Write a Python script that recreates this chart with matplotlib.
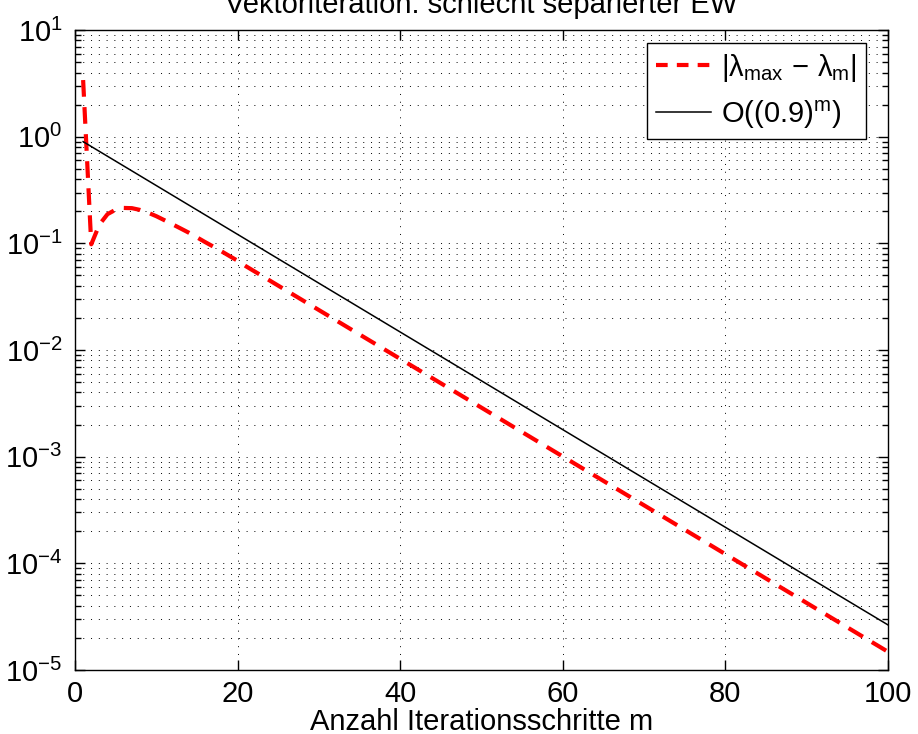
import numpy as np
import matplotlib
matplotlib.use("Agg")
from matplotlib import pyplot as plt
from matplotlib.ticker import LogLocator, FixedLocator

plt.rcParams['font.family'] = ['Liberation Sans', 'DejaVu Sans']
plt.rcParams['mathtext.fontset'] = 'custom'
plt.rcParams['mathtext.rm'] = 'Liberation Sans'
plt.rcParams['mathtext.it'] = 'Liberation Sans'
plt.rcParams['mathtext.bf'] = 'Liberation Sans'

# iteration steps
m = list(range(1, 101))

# |lambda_max - lambda_m|
err = [3.4, 0.098, 0.15, 0.188, 0.207, 0.215, 0.214, 0.206, 0.194, 0.18,
       0.165, 0.151, 0.138, 0.126, 0.114, 0.103, 0.0935, 0.0845, 0.0762, 0.0688,
       0.061275, 0.055147, 0.049632, 0.044669, 0.040202, 0.036182, 0.032564, 0.029308, 0.026377, 0.023739,
       0.021365, 0.019229, 0.017306, 0.015575, 0.014018, 0.012616, 0.011355, 0.010219, 0.0091969, 0.0082774,
       0.0074497, 0.0067049, 0.006034, 0.0054307, 0.0048877, 0.0043989, 0.003959, 0.0035631, 0.0032068, 0.0028861,
       0.0025975, 0.0023378, 0.002104, 0.0018936, 0.0017042, 0.0015338, 0.0013804, 0.0012424, 0.0011182, 0.0010063,
       0.00090569, 0.00081514, 0.0007336, 0.00066024, 0.00059422, 0.0005348, 0.00048132, 0.00043319, 0.00038987, 0.00035088,
       0.0003158, 0.00028422, 0.00025579, 0.00023022, 0.00020719, 0.00018647, 0.00016783, 0.00015104, 0.00013594, 0.00012234,
       0.00011011, 0.0000991, 0.00008919, 0.00008027, 0.00007225, 0.00006502, 0.00005852, 0.00005267, 0.0000474, 0.00004266,
       0.00003839, 0.00003455, 0.0000311, 0.00002799, 0.00002519, 0.00002267, 0.0000204, 0.00001836, 0.00001653, 0.00001487]

# reference rate O(0.9^m)
ref = [0.9, 0.81, 0.729, 0.6561, 0.59049, 0.531441, 0.478297, 0.430467, 0.38742, 0.348678,
       0.313811, 0.28243, 0.254187, 0.228768, 0.205891, 0.185302, 0.166772, 0.150095, 0.135085, 0.121577,
       0.109419, 0.098477, 0.088629, 0.079766, 0.07179, 0.064611, 0.05815, 0.052335, 0.047101, 0.042391,
       0.038152, 0.034337, 0.030903, 0.027813, 0.025032, 0.022528, 0.020276, 0.018248, 0.016423, 0.014781,
       0.013303, 0.011973, 0.010775, 0.0096977, 0.008728, 0.0078552, 0.0070697, 0.0063627, 0.0057264, 0.0051538,
       0.0046384, 0.0041746, 0.0037571, 0.0033814, 0.0030433, 0.0027389, 0.002465, 0.0022185, 0.0019967, 0.001797,
       0.0016173, 0.0014556, 0.00131, 0.001179, 0.0010611, 0.000955, 0.0008595, 0.00077355, 0.0006962, 0.00062658,
       0.00056392, 0.00050753, 0.00045677, 0.0004111, 0.00036999, 0.00033299, 0.00029969, 0.00026972, 0.00024275, 0.00021847,
       0.00019663, 0.00017696, 0.00015927, 0.00014334, 0.00012901, 0.00011611, 0.0001045, 0.000094046, 0.000084641, 0.000076177,
       0.000068559, 0.000061703, 0.000055533, 0.00004998, 0.000044982, 0.000040484, 0.000036435, 0.000032792, 0.000029513, 0.000026561]

xticks = [0, 20, 40, 60, 80, 100]

fig = plt.figure(figsize=(9.18, 7.34), dpi=100)
ax = fig.add_axes([0.0817, 0.0872, 0.967 - 0.0817, 0.959 - 0.0872])

ax.semilogy(m, err, color='red', lw=3, dashes=(4, 2.5),
            label=r'$|\lambda_{\mathrm{max}}\,-\,\lambda_{\mathrm{m}}|$')
ax.semilogy(m, ref, color='black', lw=1.1, label=r'O((0.9)$^{\mathrm{m}}$)')

ax.set_xlim(0, 100)
ax.set_ylim(1e-5, 1e1)
ax.xaxis.set_major_locator(FixedLocator(xticks))
ax.yaxis.set_major_locator(LogLocator(base=10, numticks=10))
ax.yaxis.set_minor_locator(LogLocator(base=10, subs=np.arange(2, 10), numticks=20))

# matlab style dotted grid
ax.grid(True, which='major', axis='both', color='black', ls=(0, (1, 7)), lw=0.7)
ax.grid(True, which='minor', axis='y', color='black', ls=(0, (1, 7)), lw=0.7)

ax.tick_params(which='both', direction='in', top=True, right=True, labelsize=21, width=1)
ax.tick_params(which='major', length=7)
ax.tick_params(axis='x', which='major', pad=7)
ax.tick_params(axis='y', which='major', pad=9)
ax.tick_params(which='minor', length=4)
for s in ax.spines.values():
    s.set_linewidth(1)

ax.set_xlabel('Anzahl Iterationsschritte m', fontsize=21, labelpad=0)
ax.set_title('Vektoriteration: schlecht separierter EW', fontsize=21, pad=12)

leg = ax.legend(loc='upper right', bbox_to_anchor=(0.973, 0.98), fontsize=21,
                fancybox=False, framealpha=1, edgecolor='black', borderaxespad=0,
                handlelength=1.9, handletextpad=0.35, borderpad=0.3, labelspacing=0.5)
leg.get_frame().set_linewidth(1)
# shorter dashes in the legend handle, like matlab
leg.get_lines()[0].set_dashes((2.8, 2.2))

fig.savefig('out.png', dpi=100)
